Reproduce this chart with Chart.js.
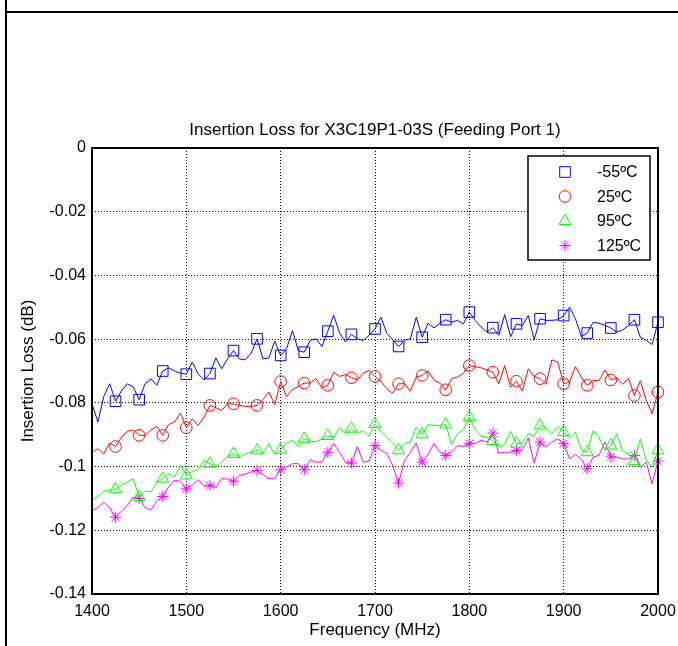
<!DOCTYPE html>
<html>
<head>
<meta charset="utf-8">
<title>Insertion Loss for X3C19P1-03S (Feeding Port 1)</title>
<script src="https://cdn.jsdelivr.net/npm/chart.js@4.4.1/dist/chart.umd.min.js"></script>
<style>
  html, body { margin: 0; padding: 0; background: #fff; }
  #frame { position: relative; width: 678px; height: 646px; overflow: hidden; }
  #chart { position: absolute; left: 0; top: 0; }
  .rule { position: absolute; background: #000; }
</style>
</head>
<body>
<div id="frame">
  <canvas id="chart" width="678" height="646"></canvas>
  <div class="rule" style="left:5px;top:0;width:2px;height:646px"></div>
  <div class="rule" style="left:5px;top:11px;width:673px;height:2px"></div>
</div>
<script>
// Sweep: 1400 -> 2000 MHz, one sample every 6.25 MHz, a marker on every 4th sample.
const START_MHZ = 1400;
const STEP_MHZ = 6.25;
const MARK_EVERY = 4;

// Insertion loss (dB), one value per sample.
const lossMinus55 = [
  -0.0803, -0.0860, -0.0780, -0.0740, -0.0795, -0.0762, -0.0740, -0.0750, -0.0790, -0.0740,
  -0.0725, -0.0745, -0.0700, -0.0690, -0.0700, -0.0707, -0.0710, -0.0672, -0.0709, -0.0728,
  -0.0708, -0.0659, -0.0693, -0.0662, -0.0636, -0.0662, -0.0665, -0.0644, -0.0599, -0.0662,
  -0.0659, -0.0606, -0.0651, -0.0630, -0.0573, -0.0636, -0.0641, -0.0604, -0.0599, -0.0623,
  -0.0575, -0.0525, -0.0581, -0.0609, -0.0585, -0.0599, -0.0604, -0.0588, -0.0568, -0.0531,
  -0.0581, -0.0602, -0.0623, -0.0604, -0.0599, -0.0531, -0.0594, -0.0550, -0.0565, -0.0550,
  -0.0539, -0.0547, -0.0541, -0.0552, -0.0515, -0.0541, -0.0562, -0.0578, -0.0564, -0.0588,
  -0.0523, -0.0592, -0.0552, -0.0557, -0.0526, -0.0602, -0.0536, -0.0541, -0.0541, -0.0539,
  -0.0526, -0.0500, -0.0536, -0.0592, -0.0581, -0.0547, -0.0550, -0.0557, -0.0565, -0.0578,
  -0.0571, -0.0557, -0.0539, -0.0594, -0.0604, -0.0617, -0.0547
];
const loss25 = [
  -0.0955, -0.0944, -0.0960, -0.0926, -0.0937, -0.0908, -0.0889, -0.0885, -0.0902, -0.0902,
  -0.0885, -0.0874, -0.0902, -0.0868, -0.0860, -0.0832, -0.0878, -0.0850, -0.0871, -0.0845,
  -0.0808, -0.0815, -0.0824, -0.0803, -0.0803, -0.0808, -0.0811, -0.0811, -0.0808, -0.0790,
  -0.0766, -0.0805, -0.0733, -0.0780, -0.0758, -0.0749, -0.0738, -0.0738, -0.0724, -0.0753,
  -0.0745, -0.0704, -0.0717, -0.0711, -0.0721, -0.0728, -0.0707, -0.0698, -0.0717, -0.0732,
  -0.0756, -0.0770, -0.0740, -0.0740, -0.0763, -0.0719, -0.0714, -0.0700, -0.0728, -0.0738,
  -0.0759, -0.0724, -0.0719, -0.0707, -0.0683, -0.0686, -0.0690, -0.0697, -0.0704, -0.0740,
  -0.0683, -0.0751, -0.0732, -0.0763, -0.0693, -0.0717, -0.0724, -0.0742, -0.0665, -0.0672,
  -0.0740, -0.0735, -0.0686, -0.0719, -0.0745, -0.0730, -0.0730, -0.0697, -0.0728, -0.0721,
  -0.0742, -0.0724, -0.0777, -0.0730, -0.0792, -0.0834, -0.0766
];
const loss95 = [
  -0.1106, -0.1094, -0.1077, -0.1075, -0.1071, -0.1059, -0.1048, -0.1038, -0.1096, -0.1077,
  -0.1080, -0.1050, -0.1038, -0.1023, -0.1033, -0.0996, -0.1028, -0.1015, -0.1010, -0.0981,
  -0.0991, -0.1002, -0.0986, -0.0968, -0.0960, -0.0970, -0.0960, -0.0955, -0.0949, -0.0960,
  -0.0928, -0.0962, -0.0947, -0.0926, -0.0918, -0.0937, -0.0913, -0.0920, -0.0922, -0.0913,
  -0.0904, -0.0908, -0.0878, -0.0897, -0.0881, -0.0897, -0.0887, -0.0905, -0.0866, -0.0889,
  -0.0908, -0.0926, -0.0949, -0.0928, -0.0923, -0.0876, -0.0899, -0.0868, -0.0871, -0.0871,
  -0.0868, -0.0930, -0.0897, -0.0884, -0.0845, -0.0884, -0.0904, -0.0908, -0.0920, -0.0939,
  -0.0930, -0.0889, -0.0928, -0.0926, -0.0897, -0.0905, -0.0871, -0.0878, -0.0897, -0.0874,
  -0.0892, -0.0910, -0.0892, -0.0947, -0.0955, -0.0887, -0.0908, -0.0949, -0.0934, -0.0897,
  -0.0951, -0.0960, -0.0983, -0.0913, -0.0979, -0.1002, -0.0949
];
const loss125 = [
  -0.1138, -0.1129, -0.1112, -0.1129, -0.1159, -0.1140, -0.1122, -0.1096, -0.1100, -0.1129,
  -0.1136, -0.1108, -0.1094, -0.1064, -0.1043, -0.1046, -0.1070, -0.1059, -0.1041, -0.1062,
  -0.1059, -0.1067, -0.1038, -0.1039, -0.1046, -0.1028, -0.1023, -0.1017, -0.1012, -0.1025,
  -0.1038, -0.1038, -0.1010, -0.1002, -0.0991, -0.0991, -0.1010, -0.0979, -0.0986, -0.0986,
  -0.0955, -0.0928, -0.0955, -0.0986, -0.0989, -0.0937, -0.0986, -0.0983, -0.0934, -0.0949,
  -0.0958, -0.0996, -0.1052, -0.0981, -0.0955, -0.0926, -0.0986, -0.0962, -0.0928, -0.0955,
  -0.0965, -0.0955, -0.0934, -0.0937, -0.0928, -0.0928, -0.0918, -0.0923, -0.0895, -0.0958,
  -0.0955, -0.0955, -0.0949, -0.0949, -0.0910, -0.0989, -0.0923, -0.0939, -0.0923, -0.0913,
  -0.0928, -0.0976, -0.0962, -0.0976, -0.1007, -0.0970, -0.0965, -0.0923, -0.0970, -0.0970,
  -0.0976, -0.0976, -0.0965, -0.1002, -0.0986, -0.1054, -0.0983
];

const seriesLabels = ["-55ºC", "25ºC", "95ºC", "125ºC"];
const seriesValues = [lossMinus55, loss25, loss95, loss125];
const seriesColors = ["#0000ff", "#ff0000", "#00ff00", "#ff00ff"];
const seriesMarkers = ["rect", "circle", "triangle", "star"];
const seriesMarkerSize = [7.5, 5.8, 7, 5.5];

const xTicks = [1400, 1500, 1600, 1700, 1800, 1900, 2000];
const yTicks = [0, -0.02, -0.04, -0.06, -0.08, -0.1, -0.12, -0.14];

const FAMILY = '"Liberation Sans", Arial, Helvetica, sans-serif';
const TICK_FONT = {family: FAMILY, size: 16, weight: "normal"};
const LABEL_FONT = {family: FAMILY, size: 17, weight: "normal"};

const freqs = lossMinus55.map((_, i) => START_MHZ + STEP_MHZ * i);

const datasets = seriesValues.map((values, s) => ({
  label: seriesLabels[s],
  data: values.map((v, i) => ({x: freqs[i], y: v})),
  borderColor: seriesColors[s],
  borderWidth: 1,
  backgroundColor: "transparent",
  pointStyle: seriesMarkers[s],
  pointBorderColor: seriesColors[s],
  pointBackgroundColor: "transparent",
  pointBorderWidth: 1,
  pointRadius: ctx => (ctx.dataIndex > 0 && ctx.dataIndex % MARK_EVERY === 0) ? seriesMarkerSize[s] : 0,
  tension: 0,
  fill: false,
  clip: 12
}));

// Solid black box around the plot area.
const axesBox = {
  id: "axesBox",
  afterDatasetsDraw(chart) {
    const {ctx, chartArea: a} = chart;
    ctx.save();
    ctx.strokeStyle = "#000";
    ctx.lineWidth = 2;
    ctx.strokeRect(a.left, a.top, a.right - a.left, a.bottom - a.top);
    ctx.restore();
  }
};

// Boxed legend in the upper-right corner of the plot area.
const boxedLegend = {
  id: "boxedLegend",
  afterDraw(chart) {
    const {ctx, chartArea: a} = chart;
    const w = 122, h = 104;
    const left = a.right - 8 - w, top = a.top + 8;
    ctx.save();
    ctx.fillStyle = "#fff";
    ctx.fillRect(left, top, w, h);
    ctx.strokeStyle = "#000";
    ctx.lineWidth = 1.5;
    ctx.strokeRect(left, top, w, h);
    ctx.font = `${TICK_FONT.size}px ${FAMILY}`;
    ctx.textBaseline = "middle";
    seriesLabels.forEach((label, i) => {
      const y = top + 16 + 24.5 * i;
      ctx.strokeStyle = seriesColors[i];
      ctx.fillStyle = "rgba(0,0,0,0)";
      ctx.lineWidth = 1;
      Chart.helpers.drawPoint(ctx, {
        pointStyle: seriesMarkers[i], radius: seriesMarkerSize[i], rotation: 0, borderWidth: 1
      }, left + 37, y);
      ctx.fillStyle = "#000";
      ctx.fillText(label, left + 69, y + 1);
    });
    ctx.restore();
  }
};

const gridStyle = {color: "#000", lineWidth: 1, drawTicks: false};

new Chart(document.getElementById("chart"), {
  type: "line",
  data: {datasets},
  plugins: [axesBox, boxedLegend],
  options: {
    responsive: false,
    animation: false,
    events: [],
    layout: {padding: {left: 18, right: 20, top: 0, bottom: 0}},
    plugins: {
      legend: {display: false},
      tooltip: {enabled: false},
      title: {
        display: true,
        text: "Insertion Loss for X3C19P1-03S (Feeding Port 1)",
        fullSize: false,
        color: "#000",
        font: LABEL_FONT,
        padding: {top: 120, bottom: 7.6}
      }
    },
    scales: {
      x: {
        type: "linear", min: xTicks[0], max: xTicks[xTicks.length - 1],
        afterBuildTicks: s => { s.ticks = xTicks.map(v => ({value: v})); },
        afterFit: s => { s.height = 52; s.paddingLeft = 0; s.paddingRight = 0; },
        ticks: {color: "#000", font: TICK_FONT, padding: 8, maxRotation: 0, autoSkip: false, callback: v => String(v)},
        grid: gridStyle,
        border: {display: false, dash: [1, 2]},
        title: {display: true, text: "Frequency (MHz)", color: "#000", font: LABEL_FONT, padding: {top: 0, bottom: 5}}
      },
      y: {
        type: "linear", min: yTicks[yTicks.length - 1], max: yTicks[0],
        afterBuildTicks: s => { s.ticks = yTicks.map(v => ({value: v})); },
        afterFit: s => { s.width = 74; s.paddingTop = 0; s.paddingBottom = 0; },
        ticks: {color: "#000", font: TICK_FONT, padding: 6, autoSkip: false, callback: v => String(+v.toFixed(2))},
        grid: gridStyle,
        border: {display: false, dash: [1, 2]},
        title: {display: true, text: "Insertion Loss (dB)", color: "#000", font: LABEL_FONT, padding: 0}
      }
    }
  }
});
</script>
</body>
</html>
